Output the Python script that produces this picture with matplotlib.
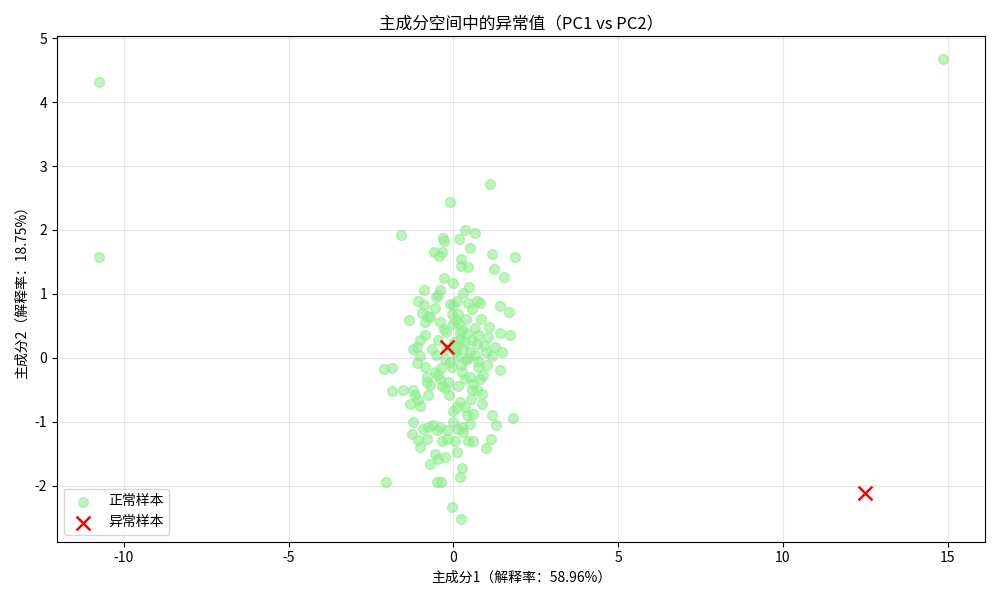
import matplotlib
matplotlib.use("Agg")
import matplotlib.pyplot as plt
import numpy as np

plt.rcParams['font.family'] = ['Noto Sans CJK SC', 'DejaVu Sans']
plt.rcParams['axes.unicode_minus'] = False

# 正常样本 (PC1, PC2)
normal_pc1 = [
    1.10, -0.11, -1.60, -0.32, -0.29, 0.35, 0.65, 0.16, 0.50, -0.59,
    -0.35, -0.44, 0.22, 0.22, 0.44, 1.17, 1.86, 1.23, 1.53, -0.29,
    -0.02, 0.47, -0.90, -0.41, -0.47, -0.53, 0.29, -1.08, -0.90, -0.11,
    0.10, -0.02, 0.71, 0.80, 0.56, 1.41, 1.68, -0.96, -0.78, -0.87,
    -0.72, -1.35, -0.56, -0.05, 0.13, 0.07, -0.02, 0.16, -0.29, -0.23,
    -0.87, -1.02, -1.11, -1.23, -0.47, 0.19, 0.41, 0.19, 0.35, 0.65,
    0.74, 0.56, 0.71, 1.41, 1.71, 1.26, 1.47, 1.07, 0.26, 0.01,
    -0.23, 0.04, 0.50, 0.98, -1.02, -0.53, 0.65, -2.11, -1.87, -1.11,
    -0.87, -0.05, -0.11, 0.10, 0.25, 0.35, 0.50, 0.59, 0.80, 0.89,
    1.01, 1.17, 1.41, -1.87, -1.54, -1.23, -1.17, -1.08, -1.32, -1.02,
    -0.78, -0.81, -0.81, -0.72, -0.56, -0.47, -0.41, -0.35, -0.26, -0.17,
    -0.38, 0.38, 0.74, 0.22, 0.56, 0.71, 0.86, 0.53, 0.86, 0.19,
    0.10, -0.02, 0.35, 0.59, 0.41, -0.02, 0.25, 0.50, 0.29, 0.13,
    -1.23, -0.93, -0.78, -0.62, -0.41, -0.20, -0.50, -1.26, -1.08, -1.02,
    -0.81, -0.35, -0.20, 0.04, 0.44, 0.59, 1.17, 1.29, 1.80, 1.13,
    0.98, -0.56, -0.47, -0.26, -0.72, 0.10, 0.25, 0.19, -2.05, -0.50,
    -0.38, -0.05, 0.22, -10.75, -10.75, 14.85, 0.07, 0.29, 0.44, -0.26,
    -0.65, 0.13, -0.14, 0.92, 1.05, -0.41, 0.38, 0.83, 0.44, 0.74,
]
normal_pc2 = [
    2.72, 2.44, 1.92, 1.88, 1.83, 2.00, 1.95, 1.86, 1.72, 1.66,
    1.66, 1.59, 1.55, 1.44, 1.42, 1.63, 1.58, 1.39, 1.27, 1.25,
    1.17, 1.11, 1.06, 1.06, 0.98, 0.95, 1.02, 0.89, 0.83, 0.84,
    0.89, 0.83, 0.88, 0.86, 0.77, 0.81, 0.72, 0.70, 0.66, 0.56,
    0.64, 0.59, 0.78, 0.69, 0.69, 0.59, 0.52, 0.53, 0.45, 0.41,
    0.36, 0.28, 0.17, 0.13, 0.28, 0.39, 0.38, 0.30, 0.25, 0.47,
    0.36, 0.28, 0.22, 0.38, 0.36, 0.17, 0.09, 0.48, 0.44, 0.25,
    0.14, 0.09, 0.09, 0.09, 0.02, 0.05, 0.05, -0.17, -0.16, -0.09,
    -0.14, -0.14, -0.06, 0.02, -0.22, -0.34, -0.30, -0.41, -0.34, -0.27,
    -0.11, 0.02, -0.19, -0.52, -0.50, -0.50, -0.59, -0.66, -0.72, -0.75,
    -0.58, -0.30, -0.38, -0.42, -0.22, -0.27, -0.33, -0.44, -0.48, -0.38,
    -0.16, -0.03, -0.05, -0.12, -0.50, -0.50, -0.56, -0.64, -0.72, -0.69,
    -0.77, -0.84, -0.77, -0.88, -0.89, -1.00, -1.08, -1.03, -1.16, -1.11,
    -1.00, -1.11, -1.08, -1.05, -1.08, -1.13, -1.13, -1.20, -1.28, -1.39,
    -1.27, -1.30, -1.27, -1.31, -1.31, -1.31, -0.89, -1.05, -0.95, -1.27,
    -1.41, -1.50, -1.59, -1.55, -1.66, -1.48, -1.73, -1.86, -1.95, -1.94,
    -1.95, -2.34, -2.52, 4.31, 1.57, 4.67, 0.17, 0.14, 0.00, -0.02,
    0.14, -0.45, -0.58, 0.20, 0.33, 0.56, 0.61, 0.61, 0.86, -0.14,
]

# 异常样本
anomaly_pc1 = [-0.20, 12.48]
anomaly_pc2 = [0.16, -2.12]

explained = [58.96, 18.75]

fig, ax = plt.subplots(figsize=(10, 6))
ax.scatter(normal_pc1, normal_pc2, c='lightgreen', alpha=0.6, s=50, label='正常样本')
ax.scatter(anomaly_pc1, anomaly_pc2, c='red', marker='x', s=100, linewidths=1.8, label='异常样本')

ax.set_xlabel(f'主成分1（解释率：{explained[0]:.2f}%）')
ax.set_ylabel(f'主成分2（解释率：{explained[1]:.2f}%）')
ax.set_title('主成分空间中的异常值（PC1 vs PC2）', fontsize=12)
ax.legend(loc='lower left', fontsize=10)
ax.grid(True, alpha=0.3)

plt.tight_layout()
fig.savefig('out.png', dpi=100)
